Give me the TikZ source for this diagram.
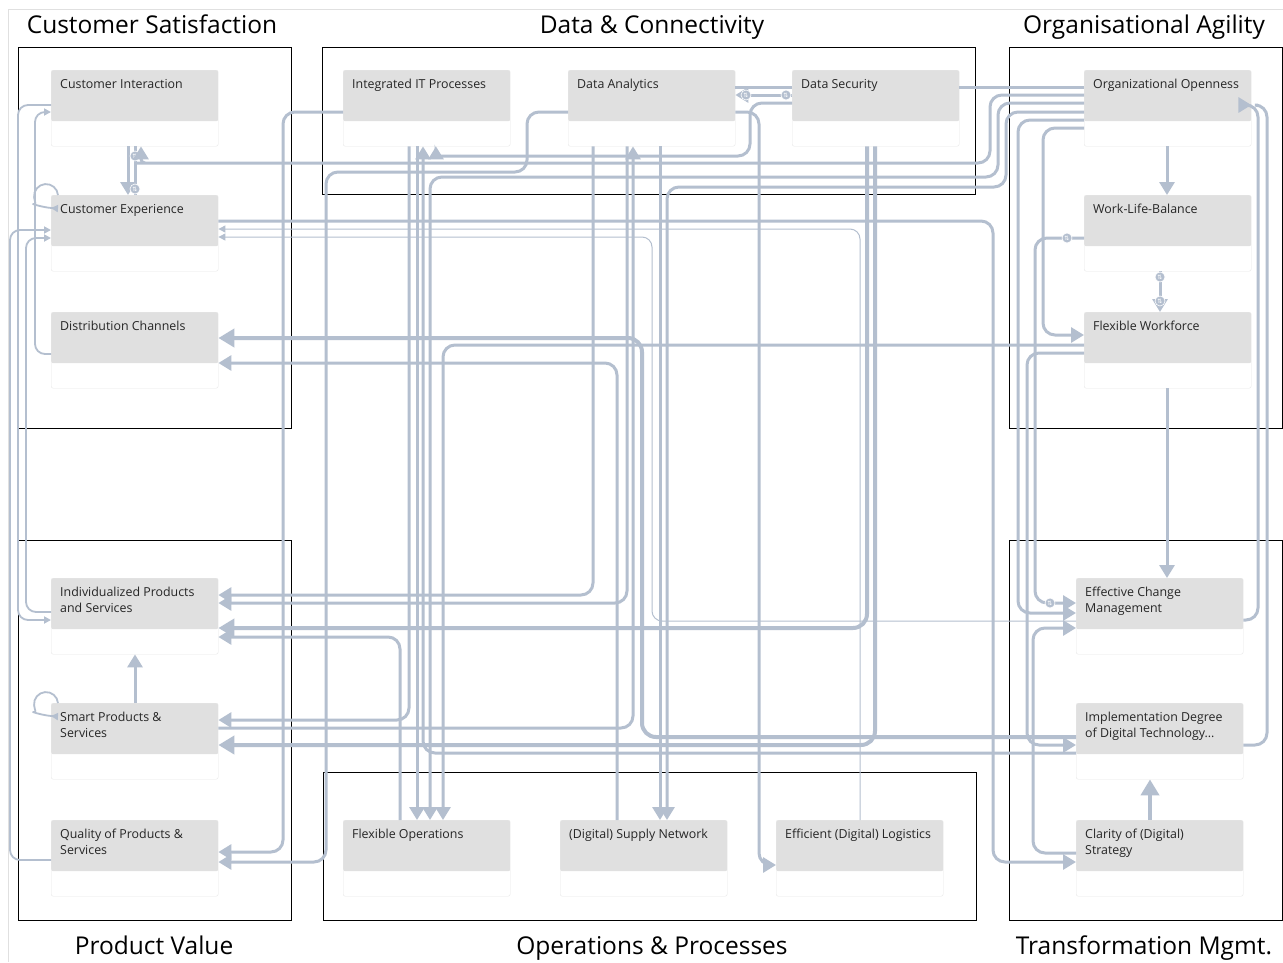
\documentclass[tikz,border=0pt]{standalone}
\usepackage{fontspec}
\setmainfont{Open Sans}
\newfontfamily\symfont{DejaVu Sans}
\usetikzlibrary{arrows.meta,calc}
\definecolor{lc}{HTML}{B4BFCF}
\definecolor{bgg}{HTML}{E0E0E0}
\tikzset{
  grp/.style={draw=black, line width=1.4pt, minimum width=#1, inner sep=0pt, anchor=north west},
  ttl/.style={font=\fontsize{24.5}{28}\selectfont, inner sep=0pt, anchor=base},
  box/.style={draw=black!9, fill=white, rounded corners=2pt, minimum width=167pt, minimum height=76pt,
    inner sep=0pt, anchor=north west,
    path picture={\fill[bgg] (path picture bounding box.north west) rectangle ([yshift=-51pt]path picture bounding box.north east);}},
  lbl/.style={anchor=north west, inner sep=0pt, xshift=9pt, yshift=-9pt, align=left,
    font=\fontsize{12.4}{16}\selectfont, text=black!85},
  cn/.style={draw=lc, rounded corners=12pt, line width=3pt},
  cthin/.style={draw=lc, rounded corners=10pt, line width=1pt},
  cmed/.style={draw=lc, rounded corners=10pt, line width=1.8pt},
  cthk/.style={draw=lc, rounded corners=14pt, line width=4pt},
  asm/.style={-{Triangle[length=7pt,width=7pt]}},
  amd/.style={-{Triangle[length=13pt,width=15pt]}},
  abg/.style={-{Triangle[length=16pt,width=18pt]}},
  badge/.style={circle, fill=lc, draw=white, line width=0.6pt, minimum size=10pt, inner sep=0pt,
    text=white, font=\symfont\fontsize{6}{6}\selectfont},
}
\begin{document}
\begin{tikzpicture}[x=1pt,y=-1pt]
\useasboundingbox (0,0) rectangle (1283,962);
\fill[white] (0,0) rectangle (1283,962);
\draw[black!12, line width=1pt] (8,962) -- (8,9) -- (1283,9);

% group frames
\node[grp=273pt, minimum height=381pt] (gcs) at (18,47) {};
\node[grp=653pt, minimum height=147pt] (gdc) at (322,47) {};
\node[grp=273pt, minimum height=381pt] (goa) at (1009,47) {};
\node[grp=273pt, minimum height=380pt] (gpv) at (18,540) {};
\node[grp=653pt, minimum height=148pt] (gop) at (323,772) {};
\node[grp=273pt, minimum height=380pt] (gtm) at (1009,540) {};

% titles
\node[ttl] (tcs) at (152,33) {Customer Satisfaction};
\node[ttl] (tdc) at (652,33) {Data \& Connectivity};
\node[ttl] (toa) at (1144,33) {Organisational Agility};
\node[ttl] (tpv) at (154,954) {Product Value};
\node[ttl] (top) at (652,954) {Operations \& Processes};
\node[ttl] (ttm) at (1144,954) {Transformation Mgmt.};

% boxes
\node[box, label={[lbl]north west:Customer Interaction}] (ci) at (51,70) {};
\node[box, label={[lbl]north west:Customer Experience}] (ce) at (51,195) {};
\node[box, label={[lbl]north west:Distribution Channels}] (dc) at (51,312) {};
\node[box, label={[lbl]north west:Integrated IT Processes}] (iit) at (343,70) {};
\node[box, label={[lbl]north west:Data Analytics}] (da) at (568,70) {};
\node[box, label={[lbl]north west:Data Security}] (ds) at (792,70) {};
\node[box, label={[lbl]north west:Organizational Openness}] (oo) at (1084,70) {};
\node[box, label={[lbl]north west:Work-Life-Balance}] (wlb) at (1084,195) {};
\node[box, label={[lbl]north west:Flexible Workforce}] (fw) at (1084,312) {};
\node[box, label={[lbl]north west:{Individualized Products\\and Services}}] (ips) at (51,578) {};
\node[box, label={[lbl]north west:{Smart Products \&\\Services}}] (sp) at (51,703) {};
\node[box, label={[lbl]north west:{Quality of Products \&\\Services}}] (qps) at (51,820) {};
\node[box, label={[lbl]north west:Flexible Operations}] (fo) at (343,820) {};
\node[box, label={[lbl]north west:(Digital) Supply Network}] (dsn) at (560,820) {};
\node[box, label={[lbl]north west:Efficient (Digital) Logistics}] (edl) at (776,820) {};
\node[box, label={[lbl]north west:{Effective Change\\Management}}] (ecm) at (1076,578) {};
\node[box, label={[lbl]north west:{Implementation Degree\\of Digital Technology...}}] (iddt) at (1076,703) {};
\node[box, label={[lbl]north west:{Clarity of (Digital)\\Strategy}}] (cds) at (1076,820) {};

% ---- left column thin connectors
\draw[cmed,asm] (dc.west|-0,354) -- (35,354) -- (35,112) -- (ci.west|-0,112);
\draw[cmed,asm] (ci.west|-0,105) -- (18,105) -- (18,620) -- (ips.west|-0,620);
\draw[cmed,asm] (ips.west|-0,612) -- (26,612) -- (26,238) -- (ce.west|-0,238);
\draw[cmed,asm] (qps.west|-0,860) -- (10,860) -- (10,230) -- (ce.west|-0,230);
\draw[cmed,asm] ([xshift=7pt]ce.north west) arc[start angle=-5,end angle=-250,radius=12] -- (ce.west|-0,208);
\draw[cmed,asm] ([xshift=7pt]sp.north west) arc[start angle=-5,end angle=-250,radius=12] -- (sp.west|-0,716);

% CI <-> CE
\draw[cn,amd] (ci.south-|128,0) -- (ce.north-|128,0);
\draw[cn] (ce.north-|135,0) -- (ci.south-|135,0);
\node[badge] (b1) at (135,156) {⇅};
\node[badge] (b2) at (135,189) {⇅};
% SP -> IPS
\draw[cn,amd] (sp.north-|135,0) -- (ips.south-|135,0);

% ---- Organizational Openness outgoing
\draw[cn] (oo.west|-0,87) -- (ds.east|-0,87);
\draw[cn,amd] (oo.west|-0,95) -- (990,95) -- (990,163) -- (149,163) [rounded corners=4pt] -- (141,163) -- (ci.south-|141,0);
\draw[cn,amd] (oo.west|-0,103) -- (998,103) -- (998,177) -- (430,177) -- (fo.north-|430,0);
\draw[cn,amd] (oo.west|-0,112) -- (1006,112) -- (1006,187) -- (667,187) -- (dsn.north-|667,0);
\draw[cn,amd] (oo.west|-0,120) -- (1018,120) -- (1018,613) -- (ecm.west|-0,613);
\draw[cn,amd] (oo.west|-0,128) -- (1043,128) -- (1043,335) -- (fw.west|-0,335);
\draw[cn,amd] (oo.south-|1167,0) -- (wlb.north-|1167,0);

% WLB
\draw[cn,amd] (wlb.south-|1160,0) -- (fw.north-|1160,0);
\node[badge] (b3) at (1160,277) {⇅};
\node[badge] (b4) at (1160,301) {⇅};
\draw[cn,amd] (wlb.west|-0,238) -- (1035,238) -- (1035,603) -- (ecm.west|-0,603);
\node[badge] (b5) at (1067,238) {⇅};
\node[badge] (b6) at (1050,603) {⇅};

% FW
\draw[cn,amd] (fw.south-|1167,0) -- (ecm.north-|1167,0);
\draw[cn,amd] (fw.west|-0,353) -- (1027,353) -- (1027,745) -- (iddt.west|-0,745);
\draw[cn,amd] (fw.west|-0,345) -- (443,345) -- (fo.north-|443,0);

% Transformation group
\draw[cn,amd] (ecm.east|-0,620) -- (1258,620) -- (1258,105) -- (oo.east|-0,105);
\draw[cn] (iddt.east|-0,745) -- (1267,745) -- (1267,105) -- (1258,105);
\draw[cthk,abg] (cds.north-|1150,0) -- (iddt.south-|1150,0);
\draw[cn,amd] (cds.west|-0,853) -- (1033,853) -- (1033,628) -- (ecm.west|-0,628);
\draw[cn,amd] (ce.east|-0,221) -- (993,221) -- (993,862) -- (cds.west|-0,862);
\draw[cthin,asm] (ecm.west|-0,621) -- (652,621) -- (652,237) -- (ce.east|-0,237);
\draw[cthin,asm] (edl.north-|860,0) -- (860,229) -- (ce.east|-0,229);

% Data group
\draw[cn] (ds.west|-0,87) -- (da.east|-0,87);
\draw[cn,amd] (ds.west|-0,95) -- (da.east|-0,95);
\node[badge] (b7) at (746,95) {⇅};
\node[badge] (b8) at (786,95) {⇅};
\draw[cn,amd] (da.east|-0,112) -- (759,112) -- (759,865) -- (edl.west|-0,865);
\draw[cn,amd] (ds.west|-0,103) -- (750,103) -- (750,156) -- (444,156) [rounded corners=4pt] -- (436,156) -- (iit.south-|436,0);
\draw[cthk,abg] (ds.south-|867,0) -- (867,628) -- (ips.east|-0,628);
\draw[cthk,abg] (ds.south-|875,0) -- (875,745) -- (sp.east|-0,745);
\draw[cthk,abg] (iddt.west|-0,737) -- (642,737) -- (642,338) -- (dc.east|-0,338);
\draw[cn,amd] (sp.east|-0,728) -- (633,728) -- (633,0|-da.south);
\draw[cn,amd] (dsn.north-|617,0) -- (617,363) -- (dc.east|-0,363);
\draw[cn,amd] (da.south-|593,0) -- (593,595) -- (ips.east|-0,595);
\draw[cn,amd] (da.south-|627,0) -- (627,603) -- (ips.east|-0,603);
\draw[cn,amd] (da.south-|660,0) -- (dsn.north-|660,0);
\draw[cn,amd] (iit.west|-0,112) -- (283,112) -- (283,852) -- (qps.east|-0,852);
\draw[cn,amd] (da.west|-0,112) -- (527,112) -- (527,172) -- (326,172) -- (326,862) -- (qps.east|-0,862);
\draw[cn,amd] (fo.north-|400,0) -- (400,637) -- (ips.east|-0,637);
\draw[cn,amd] (iit.south-|409,0) -- (409,720) -- (sp.east|-0,720);
\draw[cn,amd] (iit.south-|417,0) -- (fo.north-|417,0);
\draw[cn,amd] (iddt.west|-0,753) -- (423,753) -- (iit.south-|423,0);
\end{tikzpicture}
\end{document}
